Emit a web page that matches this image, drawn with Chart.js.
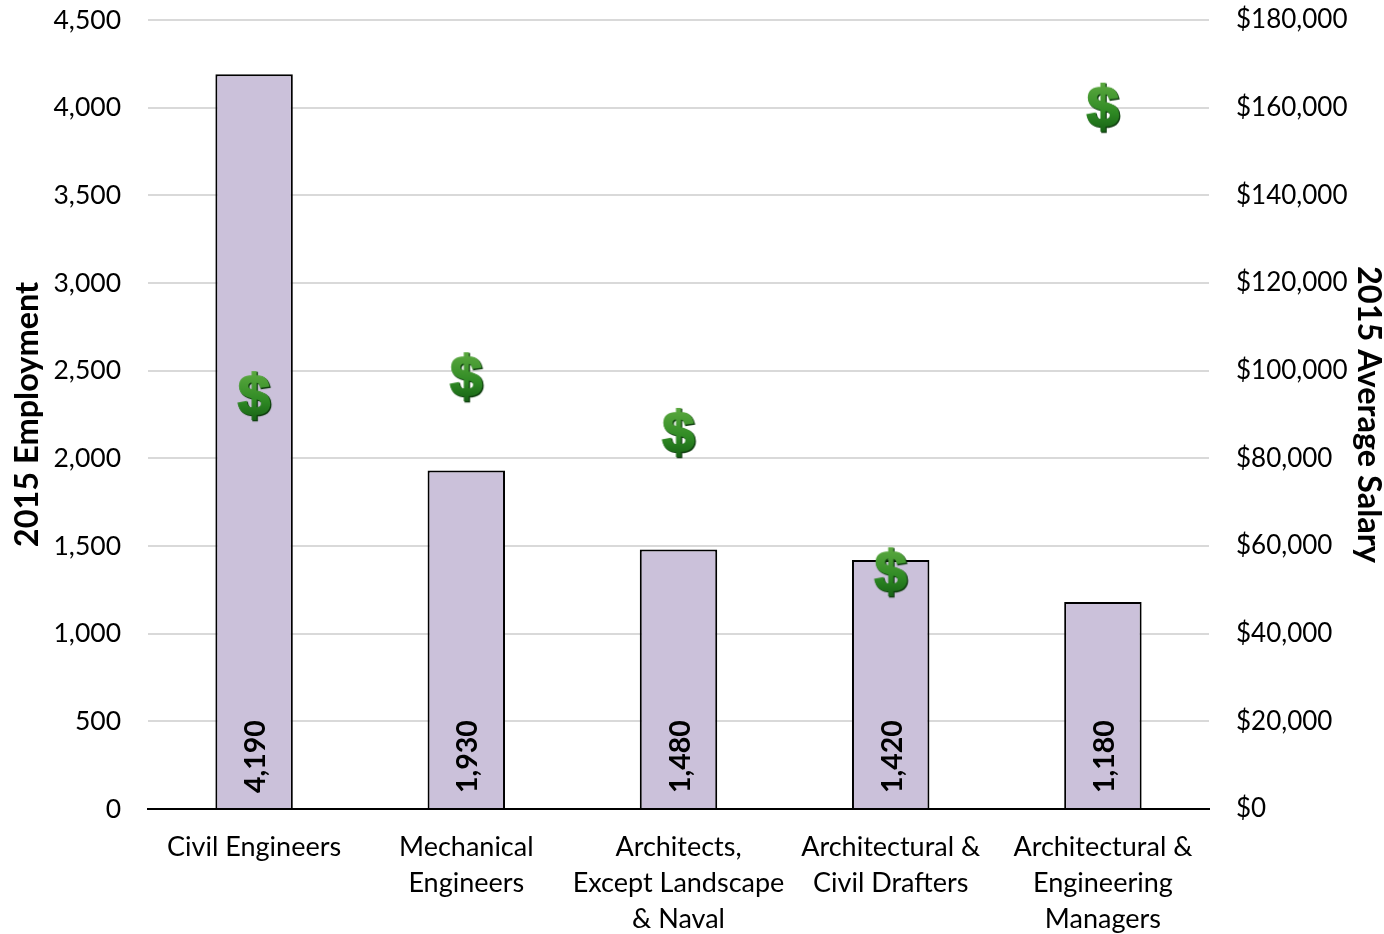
<!DOCTYPE html>
<html>
<head>
<meta charset="utf-8">
<title>2015 Employment and Average Salary</title>
<script src="https://cdn.jsdelivr.net/npm/chart.js@4"></script>
<style>
  html, body { margin: 0; padding: 0; background: #fff; }
  canvas { display: block; }
</style>
</head>
<body>
<canvas id="salaryChart" width="1384" height="934"></canvas>
<script>
const occupations = [
    'Civil Engineers',
    ['Mechanical', 'Engineers'],
    ['Architects,', 'Except Landscape', '& Naval'],
    ['Architectural &', 'Civil Drafters'],
    ['Architectural &', 'Engineering', 'Managers']
];
const employment = [4190, 1930, 1480, 1420, 1180];
const avgSalary = [94200, 98500, 85800, 54000, 160000];

const FONT = 'Lato, "Open Sans", sans-serif';
const TICK_SIZE = 26.5;

// green dollar sign used as the point marker
function dollarMarker() {
    const c = document.createElement('canvas');
    c.width = 44;
    c.height = 64;
    const g = c.getContext('2d');
    const grad = g.createLinearGradient(0, 8, 0, 60);
    grad.addColorStop(0, '#5aa83f');
    grad.addColorStop(0.55, '#2f8a24');
    grad.addColorStop(1, '#125a12');
    g.font = 'bold 58px "Liberation Sans"';
    g.textAlign = 'center';
    g.textBaseline = 'middle';
    // dark copy underneath gives the bevelled edge
    g.fillStyle = '#0c3a0c';
    g.lineWidth = 2.5;
    g.strokeStyle = '#0c3a0c';
    g.strokeText('$', 23, 36);
    g.lineWidth = 2;
    g.strokeStyle = grad;
    g.fillStyle = grad;
    g.strokeText('$', 22, 35);
    g.fillText('$', 22, 35);
    return c;
}

// vertical value labels sitting at the foot of each bar
const barLabels = {
    id: 'barLabels',
    afterDatasetsDraw(chart) {
        const meta = chart.getDatasetMeta(0);
        const base = chart.scales.y.getPixelForValue(0);
        const g = chart.ctx;
        g.save();
        g.font = 'bold 28.5px ' + FONT;
        g.fillStyle = '#000';
        g.textAlign = 'left';
        g.textBaseline = 'middle';
        meta.data.forEach(function (bar, i) {
            g.save();
            g.translate(bar.x + 2, base - 16);
            g.rotate(-Math.PI / 2);
            g.fillText(employment[i].toLocaleString('en-US'), 0, 0);
            g.restore();
        });
        g.restore();
    }
};

new Chart(document.getElementById('salaryChart'), {
    data: {
        labels: occupations,
        datasets: [
            {
                type: 'line',
                label: '2015 Average Salary',
                data: avgSalary,
                yAxisID: 'y2',
                showLine: false,
                pointStyle: dollarMarker(),
                order: 0
            },
            {
                type: 'bar',
                label: '2015 Employment',
                data: employment,
                yAxisID: 'y',
                backgroundColor: '#cbc1da',
                borderColor: '#000',
                borderWidth: 2,
                barPercentage: 0.365,
                categoryPercentage: 1,
                order: 1
            }
        ]
    },
    plugins: [barLabels],
    options: {
        responsive: false,
        animation: false,
        devicePixelRatio: 1,
        layout: { padding: { top: 20, right: 0, bottom: 0, left: 0 } },
        plugins: { legend: { display: false }, tooltip: { enabled: false } },
        scales: {
            x: {
                grid: { display: false },
                border: { color: '#000', width: 2 },
                ticks: { color: '#000', font: { family: FONT, size: 27, lineHeight: 1.333 }, maxRotation: 0, minRotation: 0, autoSkip: false, padding: 12 },
                afterFit(axis) { axis.height = 125; axis.paddingLeft = 0; axis.paddingRight = 0; }
            },
            y: {
                position: 'left',
                min: 0,
                max: 4500,
                grid: { color: '#d9d9d9', lineWidth: 2, drawTicks: false },
                border: { display: false },
                ticks: {
                    stepSize: 500,
                    color: '#000',
                    padding: 27,
                    font: { family: FONT, size: TICK_SIZE },
                    callback: function (v) { return v.toLocaleString('en-US'); }
                },
                title: { display: true, text: '2015 Employment', color: '#000', font: { family: FONT, size: 32.5, weight: 'bold', lineHeight: 1 }, padding: { top: 11, bottom: 0 } },
                afterFit(axis) { axis.width = 148; axis.paddingTop = 0; axis.paddingBottom = 0; }
            },
            y2: {
                position: 'right',
                min: 0,
                max: 180000,
                grid: { display: false },
                border: { display: false },
                ticks: {
                    stepSize: 20000,
                    color: '#000',
                    padding: 19,
                    font: { family: FONT, size: 26 },
                    callback: function (v) { return '$' + v.toLocaleString('en-US'); }
                },
                title: { display: true, text: '2015 Average Salary', color: '#000', font: { family: FONT, size: 32.5, weight: 'bold', lineHeight: 1 }, padding: { top: -1, bottom: 0 } },
                afterFit(axis) { axis.width = 175; axis.paddingTop = 0; axis.paddingBottom = 0; }
            }
        }
    }
});
</script>
</body>
</html>
